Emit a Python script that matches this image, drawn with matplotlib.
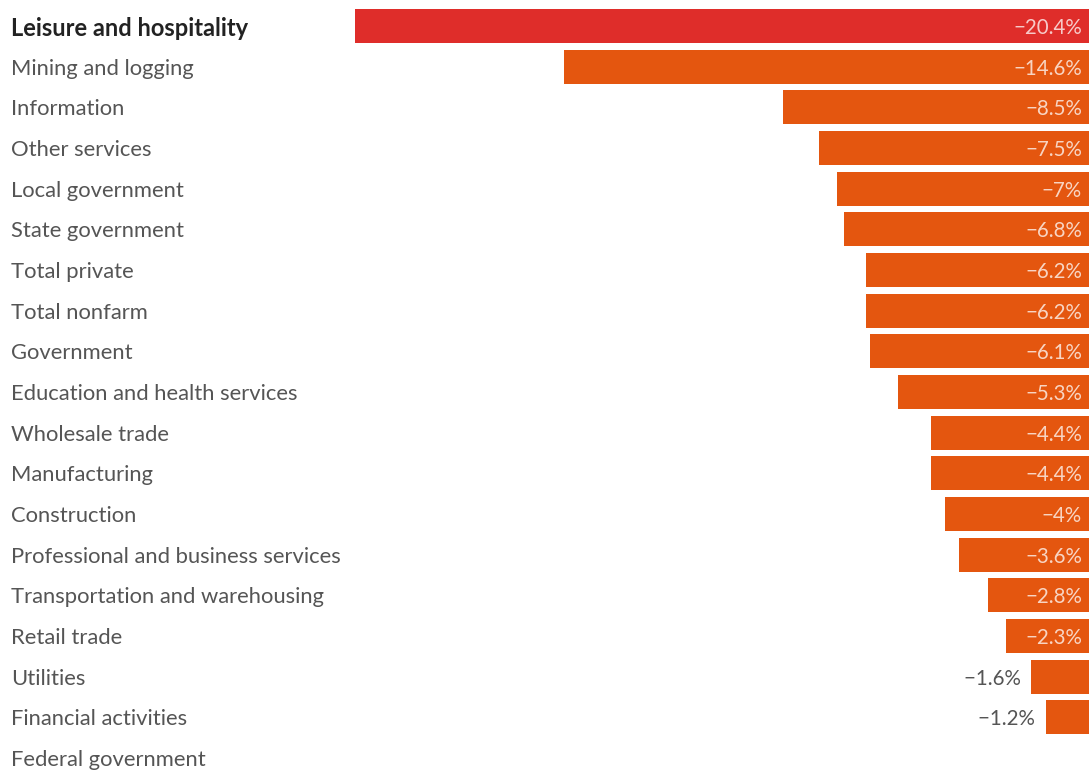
import matplotlib
matplotlib.use("Agg")
import matplotlib.pyplot as plt
import matplotlib.transforms as mtransforms

categories = [
    "Leisure and hospitality", "Mining and logging", "Information", "Other services",
    "Local government", "State government", "Total private", "Total nonfarm",
    "Government", "Education and health services", "Wholesale trade", "Manufacturing",
    "Construction", "Professional and business services", "Transportation and warehousing",
    "Retail trade", "Utilities", "Financial activities", "Federal government",
]
values = [-20.4, -14.6, -8.5, -7.5, -7.0, -6.8, -6.2, -6.2, -6.1, -5.3, -4.4, -4.4,
          -4.0, -3.6, -2.8, -2.3, -1.6, -1.2, 0.0]
labels = ["−20.4%", "−14.6%", "−8.5%", "−7.5%", "−7%", "−6.8%", "−6.2%", "−6.2%", "−6.1%",
          "−5.3%", "−4.4%", "−4.4%", "−4%", "−3.6%", "−2.8%", "−2.3%", "−1.6%", "−1.2%", ""]

RED = "#df2d2a"
ORANGE = "#e4560f"
FONT = ["Lato", "DejaVu Sans"]

W, H = 1089, 772
fig = plt.figure(figsize=(W / 100, H / 100), dpi=100)
ax = fig.add_axes([355 / W, 0, 1 - 355 / W, 1])
ax.set_xlim(-20.4, 0)
pitch = (758 - 26) / 18
ax.set_ylim((H - 26) / pitch, -26 / pitch)
ax.axis("off")

ypos = list(range(len(categories)))
colors = [RED] + [ORANGE] * (len(categories) - 1)
ax.barh(ypos, values, height=34 / pitch, color=colors, left=0)

trans = mtransforms.blended_transform_factory(fig.transFigure, ax.transData)
dy = 0.05
for i, (cat, v, lab) in enumerate(zip(categories, values, labels)):
    bold = i == 0
    ax.text(11 / W, i + dy, cat, transform=trans, ha="left", va="center",
            fontsize=17.0 if bold else 15.8, family=FONT,
            fontweight="bold" if bold else "normal",
            color="#222222" if bold else "#555555", clip_on=False)
    if not lab:
        continue
    if v <= -2.0:
        ax.text(1082 / W, i + dy, lab, transform=trans, ha="right", va="center",
                fontsize=14.8, family=FONT, color="white", alpha=0.75)
    else:
        ax.text(v, i + dy, lab + "  ", ha="right", va="center", fontsize=14.8,
                family=FONT, color="#555555")

fig.savefig("out.png", dpi=100)
